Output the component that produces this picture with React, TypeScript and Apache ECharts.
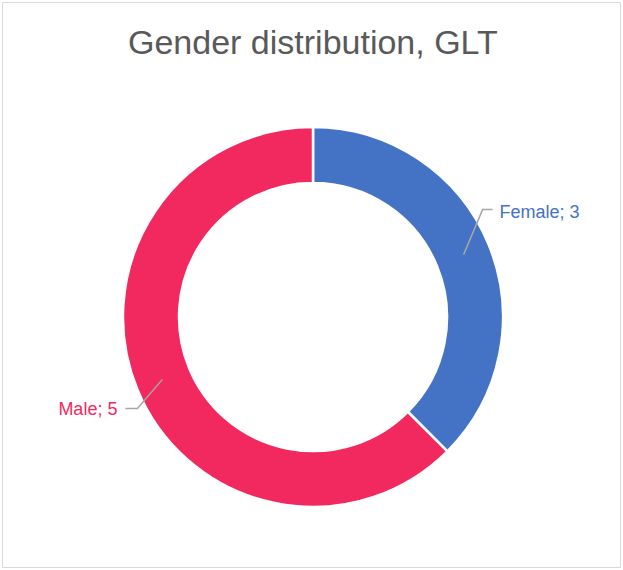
import React, { useEffect, useRef } from "react";
import * as echarts from "echarts";

const titleText = "Gender distribution, GLT";
const categories = ["Female", "Male"];
const values = [3, 5];
const colors = ["#4472C4", "#F2295F"];

export default function App() {
  const ref = useRef<HTMLDivElement>(null);
  useEffect(() => {
    if (!ref.current) return;
    const chart = echarts.init(ref.current, undefined, { renderer: "svg" });
    const data = categories.map((c, i) => ({
      name: c,
      value: values[i],
      itemStyle: { color: colors[i] },
      label: { color: colors[i] },
    }));
    chart.setOption({
      animation: false,
      backgroundColor: "#ffffff",
      title: {
        text: titleText,
        left: 123,
        top: 20,
        textStyle: {
          fontFamily: "Liberation Sans",
          fontSize: 34,
          fontWeight: "normal",
          color: "#595959",
        },
      },
      graphic: [
        {
          type: "rect",
          shape: { x: 2.5, y: 2.5, width: 618, height: 565 },
          style: { fill: "none", stroke: "#D9D9D9", lineWidth: 1 },
          silent: true,
        },
      ],
      series: [
        {
          type: "pie",
          z: 2,
          center: [313, 317],
          radius: [134, 190],
          startAngle: 90,
          clockwise: true,
          silent: true,
          label: { show: false },
          labelLine: { show: false },
          itemStyle: { borderColor: "#ffffff", borderWidth: 2.5 },
          data,
        },
        {
          type: "pie",
          z: 5,
          center: [313, 317],
          radius: [150, 163],
          startAngle: 90,
          clockwise: true,
          silent: true,
          itemStyle: { color: "rgba(0,0,0,0)" },
          label: {
            show: true,
            position: "outside",
            formatter: "{b}; {c}",
            fontFamily: "Liberation Sans",
            fontSize: 18,
          },
          labelLine: {
            show: true,
            length: 20,
            length2: 12,
            lineStyle: { color: "#A6A6A6", width: 1.5 },
          },
          labelLayout: (p: any) => {
            const pts = p.labelLinePoints;
            if (!pts) return {};
            const s = pts[0];
            if (p.dataIndex === 0) {
              const knee = [s[0] + 19, s[1] - 45];
              const end = [knee[0] + 10, knee[1]];
              return {
                x: end[0] + 7,
                y: end[1] + 2,
                align: "left",
                verticalAlign: "middle",
                labelLinePoints: [s, knee, end],
              };
            }
            const knee = [s[0] - 25, s[1] + 29];
            const end = [knee[0] - 12, knee[1]];
            return {
              x: end[0] - 8,
              y: end[1] + 1,
              align: "right",
              verticalAlign: "middle",
              labelLinePoints: [s, knee, end],
            };
          },
          data: categories.map((c, i) => ({
            name: c,
            value: values[i],
            label: { color: colors[i] },
          })),
        },
      ],
    });
    return () => chart.dispose();
  }, []);
  return (
    <div
      ref={ref}
      style={{ position: "absolute", left: 0, top: 0, width: 623, height: 570 }}
    />
  );
}
